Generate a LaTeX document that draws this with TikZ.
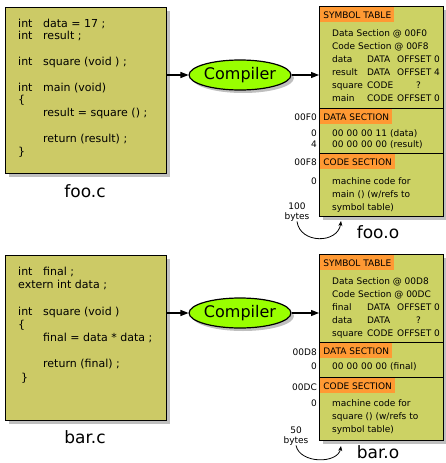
\documentclass[tikz,border=0pt]{standalone}
\usepackage{fontspec}
\setmainfont{DejaVu Sans}
\usepackage{xcolor}
\usetikzlibrary{positioning, arrows.meta, shapes.geometric, shadows}

\definecolor{srcfill}{RGB}{204,202,102}
\definecolor{objfill}{RGB}{204,210,100}
\definecolor{hdrfill}{RGB}{255,153,51}
\definecolor{compfill}{RGB}{153,255,0}

\begin{document}
\begin{tikzpicture}[
  x=1pt, y=-1pt,
  font=\fontsize{9}{11}\selectfont,
  shade/.style={drop shadow={shadow xshift=3pt, shadow yshift=-3pt,
                fill=black, opacity=.25}},
  srcbox/.style={draw, line width=1.2pt, fill=srcfill, anchor=north west,
                 minimum width=161pt, inner sep=0, shade},
  code/.style={anchor=base west, align=left, inner sep=0,
               font=\fontsize{11}{12.8}\selectfont},
  comp/.style={ellipse, draw, line width=1.2pt, fill=compfill, inner sep=0,
               minimum width=94pt, minimum height=30pt,
               font=\fontsize{16}{18}\selectfont, shade},
  sect/.style={draw, line width=1.2pt, fill=objfill, anchor=north west,
               minimum width=124pt, inner sep=0, shade},
  hdr/.style={fill=hdrfill, anchor=north west, minimum height=15pt,
              inner xsep=3pt, inner ysep=0},
  txt/.style={anchor=base west, inner sep=0, align=left,
              font=\fontsize{9}{13}\selectfont},
  addr/.style={anchor=base east, inner sep=0},
  bytes/.style={align=center, inner sep=0, font=\fontsize{9}{10}\selectfont},
  fname/.style={inner sep=0, font=\fontsize{17}{19}\selectfont},
  arr/.style={-{Triangle[length=8pt, width=6pt]}, line width=1.2pt},
  loop/.style={-{Stealth[length=5pt, width=4pt]}, line width=0.8pt}
]
\useasboundingbox (0,0) rectangle (445,463);

% ---- foo ----
\node[srcbox, minimum height=166pt] (fooc) at (5,7) {};
% multi-line text: base = last line
\node[code] (foocode) at (18,155) {%
  \makebox[25pt][l]{int}data = 17 ;\\
  \makebox[25pt][l]{int}result ;\\[12.8pt]
  \makebox[25pt][l]{int}square (void ) ;\\[12.8pt]
  \makebox[25pt][l]{int}main (void)\\
  \{\\
  \hspace*{25pt}result = square () ;\\[12.8pt]
  \hspace*{25pt}return (result) ;\\
  \}};
\node[fname] (foocname) at (85,191) {foo.c};

\node[comp] (compA) at (240,75) {Compiler};

\node[sect, minimum height=102pt] (fooSym) at (319,6) {};
\node[sect, minimum height=45pt, below=-1.2pt of fooSym] (fooData) {};
\node[sect, minimum height=63pt, below=-1.2pt of fooData] (fooCode) {};
\node[hdr] (fooSymH) at ([shift={(1.2pt,-1.2pt)}]fooSym.north west) {SYMBOL TABLE};
\node[hdr] (fooDataH) at ([shift={(1.2pt,-1.2pt)}]fooData.north west) {DATA SECTION};
\node[hdr] (fooCodeH) at ([shift={(1.2pt,-1.2pt)}]fooCode.north west) {CODE SECTION};

\node[txt] (fooSymT) at (332,36) {%
  \begin{tabular}[t]{@{}p{35pt}@{}p{30pt}@{}c@{}}
  \multicolumn{3}{@{}l@{}}{Data Section @ 00F0}\\
  \multicolumn{3}{@{}l@{}}{Code Section @ 00F8}\\
  data & DATA & OFFSET 0\\
  result & DATA & OFFSET 4\\
  square & CODE & ?\\
  main & CODE & OFFSET 0
  \end{tabular}};
\node[txt, font=\fontsize{9}{11}\selectfont] (fooDataT) at (332,147) {%
  \makebox[14.5pt][l]{00}\makebox[14.5pt][l]{00}\makebox[14.5pt][l]{00}\makebox[14.5pt][l]{11}(data)\\
  \makebox[14.5pt][l]{00}\makebox[14.5pt][l]{00}\makebox[14.5pt][l]{00}\makebox[14.5pt][l]{00}(result)};
\node[txt] (fooCodeT) at (332,210) {machine code for\\main () (w/refs to\\symbol table)};

\node[addr] (fooA1) at (317,120) {00F0};
\node[addr] (fooA2) at (317,136) {0};
\node[addr] (fooA3) at (317,147) {4};
\node[addr] (fooA4) at (317,165) {00F8};
\node[addr] (fooA5) at (317,184) {0};

\node[bytes] (fooBytes) at (297,212) {100\\bytes};
\coordinate (fooTip) at (341,221);
\node[fname] (fooname) at (378,232) {foo.o};

\draw[arr] (fooc.east |- compA) -- (compA);
\draw[arr] (compA) -- (compA -| fooSym.west);
\draw[loop] (fooBytes.south) .. controls (300,244) and (338,244) .. (fooTip);

% ---- bar ----
\node[srcbox, minimum height=165pt] (barc) at (5,255) {};
\node[code, font=\fontsize{11}{13.2}\selectfont] (barcode) at (18,381) {%
  \makebox[25pt][l]{int}final ;\\
  extern int data ;\\[13.2pt]
  \makebox[25pt][l]{int}square (void )\\
  \{\\
  \hspace*{25pt}final = data * data ;\\[13.2pt]
  \hspace*{25pt}return (final) ;\\
  \hspace*{3pt}\}};
\node[fname] (barcname) at (85,437) {bar.c};

\node[comp] (compB) at (240,313) {Compiler};

\node[sect, minimum height=88pt] (barSym) at (319,254) {};
\node[sect, minimum height=35pt, below=-1.2pt of barSym] (barData) {};
\node[sect, minimum height=63pt, below=-1.2pt of barData] (barCode) {};
\node[hdr] (barSymH) at ([shift={(1.2pt,-1.2pt)}]barSym.north west) {SYMBOL TABLE};
\node[hdr] (barDataH) at ([shift={(1.2pt,-1.2pt)}]barData.north west) {DATA SECTION};
\node[hdr] (barCodeH) at ([shift={(1.2pt,-1.2pt)}]barCode.north west) {CODE SECTION};

\node[txt] (barSymT) at (332,284) {%
  \begin{tabular}[t]{@{}p{35pt}@{}p{30pt}@{}c@{}}
  \multicolumn{3}{@{}l@{}}{Data Section @ 00D8}\\
  \multicolumn{3}{@{}l@{}}{Code Section @ 00DC}\\
  final & DATA & OFFSET 0\\
  data & DATA & ?\\
  square & CODE & OFFSET 0
  \end{tabular}};
\node[txt] (barDataT) at (332,369) {%
  \makebox[14.5pt][l]{00}\makebox[14.5pt][l]{00}\makebox[14.5pt][l]{00}\makebox[14.5pt][l]{00}(final)};
\node[txt] (barCodeT) at (332,432) {machine code for\\square () (w/refs to\\symbol table)};

\node[addr] (barA1) at (317,355) {00D8};
\node[addr] (barA2) at (317,369) {0};
\node[addr] (barA3) at (317,390) {00DC};
\node[addr] (barA4) at (317,406) {0};

\node[bytes] (barBytes) at (296,436) {50\\bytes};
\coordinate (barTip) at (341,446);
\node[fname] (barname) at (378,452) {bar.o};

\draw[arr] (barc.east |- compB) -- (compB);
\draw[arr] (compB) -- (compB -| barSym.west);
\draw[loop] (barBytes.south) .. controls (300,464) and (338,464) .. (barTip);
\end{tikzpicture}
\end{document}
